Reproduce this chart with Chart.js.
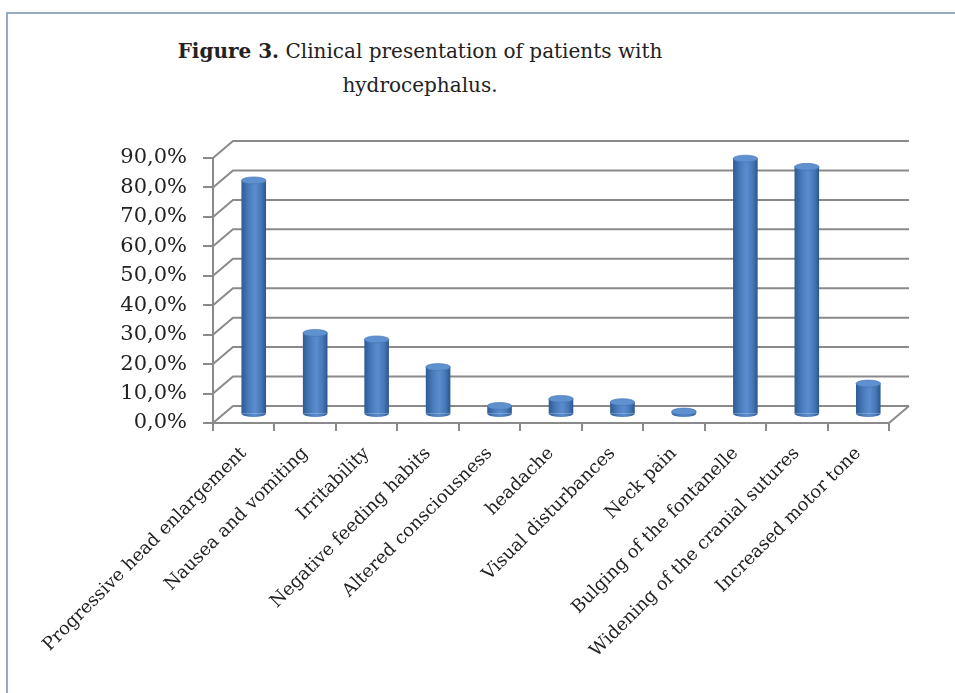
<!DOCTYPE html>
<html>
<head>
<meta charset="utf-8">
<script src="https://cdn.jsdelivr.net/npm/chart.js@4/dist/chart.umd.min.js"></script>
<style>
  html, body { margin: 0; padding: 0; background: #fff; width: 955px; height: 693px; overflow: hidden; }
  #frame { position: absolute; left: 6px; top: 12px; width: 1000px; height: 800px; border: 2px solid #94abc1; }
  #title { position: absolute; left: 0; top: 34px; width: 840px; text-align: center;
           font-family: 'DejaVu Serif', serif; font-size: 20px; line-height: 34px; color: #222; }
  #wrap { position: absolute; left: 0; top: 0; width: 955px; height: 693px; }
</style>
</head>
<body>
<div id="frame"></div>
<div id="title"><b>Figure 3.</b> Clinical presentation of patients with<br>hydrocephalus.</div>
<div id="wrap"><canvas id="chart" width="955" height="693"></canvas></div>
<script>
// Symptoms and share of patients presenting with each (%)
const categories = [
  'Progressive head enlargement', 'Nausea and vomiting', 'Irritability',
  'Negative feeding habits', 'Altered consciousness', 'headache',
  'Visual disturbances', 'Neck pain', 'Bulging of the fontanelle',
  'Widening of the cranial sutures', 'Increased motor tone'
];
const percentages = [79.5, 27.7, 25.5, 16.1, 2.9, 5.3, 4.2, 1.0, 86.9, 84.1, 10.5];
const yTicks = [0, 10, 20, 30, 40, 50, 60, 70, 80, 90];

const DEPTH_X = 20, DEPTH_Y = -17;   // back wall offset of the 3-D box
const BAR_FRACTION = 0.4;
const GRID = '#8a8a8a';
const TEXT = '#222';

const fmtPct = v => v.toFixed(1).replace('.', ',') + '%';

function barGradient(c) {
  const chart = c.chart, xs = chart.scales.x;
  if (!xs || !chart.chartArea) return '#4f81bd';
  const cx = xs.getPixelForValue(c.dataIndex);
  const hw = xs.width / categories.length * BAR_FRACTION / 2;
  const g = chart.ctx.createLinearGradient(cx - hw, 0, cx + hw, 0);
  g.addColorStop(0, '#2d5b93');
  g.addColorStop(0.3, '#4a7cbd');
  g.addColorStop(0.55, '#5a8dcf');
  g.addColorStop(0.8, '#4677b7');
  g.addColorStop(1, '#2b568c');
  return g;
}

// Side wall, back wall and floor of the 3-D box, then the bars pushed half way back
const box3d = {
  id: 'box3d',
  beforeDatasetsDraw(chart) {
    const { ctx, chartArea: a, scales: { y } } = chart;
    ctx.save();
    ctx.lineWidth = 2;
    ctx.strokeStyle = GRID;
    yTicks.forEach(v => {
      const py = y.getPixelForValue(v);
      ctx.beginPath();
      ctx.moveTo(a.left, py);
      ctx.lineTo(a.left + DEPTH_X, py + DEPTH_Y);
      ctx.lineTo(a.right + DEPTH_X, py + DEPTH_Y);
      ctx.stroke();
    });
    // floor right edge
    const p0 = y.getPixelForValue(0);
    ctx.beginPath();
    ctx.moveTo(a.right, p0);
    ctx.lineTo(a.right + DEPTH_X, p0 + DEPTH_Y);
    ctx.stroke();
    ctx.restore();

    ctx.save();
    ctx.translate(DEPTH_X / 2, DEPTH_Y / 2);
  },
  afterDatasetsDraw(chart) {
    const { ctx } = chart;
    const meta = chart.getDatasetMeta(0);
    meta.data.forEach((el, i) => {
      const w = el.width, rx = w / 2, ry = 3.5;
      const fill = barGradient({ chart, dataIndex: i });
      // rounded base
      ctx.beginPath();
      ctx.ellipse(el.x, el.base, rx, ry, 0, 0, Math.PI);
      ctx.fillStyle = fill;
      ctx.fill();
      // top cap
      ctx.beginPath();
      ctx.ellipse(el.x, el.y, rx, ry, 0, 0, Math.PI * 2);
      ctx.fillStyle = '#5f90d0';
      ctx.fill();
      ctx.lineWidth = 0.6;
      ctx.strokeStyle = '#4272b0';
      ctx.stroke();
    });
    ctx.restore();
  }
};

new Chart(document.getElementById('chart'), {
  type: 'bar',
  data: {
    labels: categories,
    datasets: [{
      data: percentages,
      backgroundColor: barGradient,
      borderWidth: 0,
      categoryPercentage: 1,
      barPercentage: BAR_FRACTION
    }]
  },
  options: {
    responsive: false,
    animation: false,
    events: [],
    layout: { padding: { left: 0, top: 158, right: 66, bottom: 0 } },
    plugins: { legend: { display: false }, title: { display: false }, tooltip: { enabled: false } },
    scales: {
      x: {
        afterFit: s => { s.height = 270; },
        grid: { drawOnChartArea: false, drawTicks: true, tickLength: 8, color: GRID, lineWidth: 2, offset: true },
        border: { display: true, color: GRID, width: 2 },
        ticks: {
          color: TEXT, autoSkip: false, maxRotation: 45, minRotation: 45, padding: 12,
          font: { family: 'DejaVu Serif', size: 18 }
        }
      },
      y: {
        min: 0, max: 90,
        afterFit: s => { s.width = 213; },
        afterBuildTicks: s => { s.ticks = yTicks.map(v => ({ value: v })); },
        grid: { drawOnChartArea: false, drawTicks: true, tickLength: 10, color: GRID, lineWidth: 2 },
        border: { display: true, color: GRID, width: 2 },
        ticks: {
          color: TEXT, padding: 16, callback: v => fmtPct(v),
          font: { family: 'DejaVu Serif', size: 21 }
        }
      }
    }
  },
  plugins: [box3d]
});
</script>
</body>
</html>
